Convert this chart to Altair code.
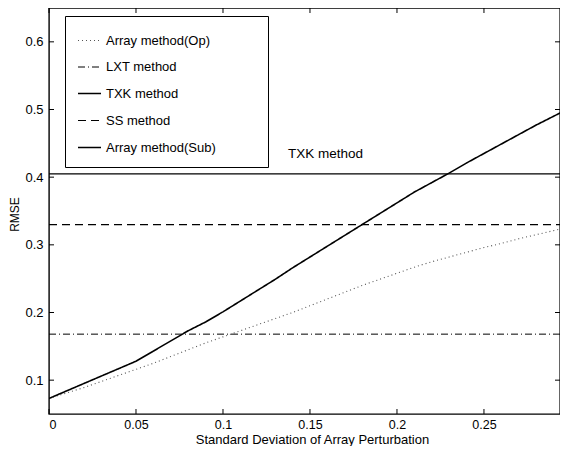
import altair as alt
import pandas as pd

# ---- data ----
x_vals = [0.00, 0.01, 0.02, 0.03, 0.04, 0.05, 0.06, 0.07, 0.08, 0.09,
          0.10, 0.11, 0.12, 0.13, 0.14, 0.15, 0.16, 0.17, 0.18, 0.19,
          0.20, 0.21, 0.22, 0.23, 0.24, 0.25, 0.26, 0.27, 0.28, 0.29, 0.30]
sub_vals = [0.073, 0.084, 0.095, 0.106, 0.117, 0.128, 0.143, 0.158, 0.173, 0.186,
            0.201, 0.217, 0.233, 0.249, 0.266, 0.282, 0.298, 0.314, 0.330, 0.346,
            0.362, 0.378, 0.392, 0.406, 0.421, 0.435, 0.449, 0.463, 0.477, 0.490, 0.503]
op_vals = [0.073, 0.081, 0.089, 0.098, 0.107, 0.116, 0.125, 0.135, 0.145, 0.155,
           0.164, 0.173, 0.182, 0.191, 0.200, 0.210, 0.220, 0.230, 0.240, 0.249,
           0.258, 0.267, 0.275, 0.282, 0.289, 0.296, 0.302, 0.309, 0.315, 0.321, 0.327]
flat_x = [0.0, 0.30]
txk_level = 0.405
ss_level = 0.330
lxt_level = 0.168

methods = ["Array method(Op)", "LXT method", "TXK method", "SS method", "Array method(Sub)"]
method_colors = ["#555555", "#000000", "#000000", "#000000", "#000000"]
method_dashes = [[1, 3], [7, 3, 1, 3], [1, 0], [8, 5], [1, 0]]
method_widths = [1.1, 1.0, 1.3, 1.2, 1.6]

x_ticks = [0, 0.05, 0.1, 0.15, 0.2, 0.25]
y_ticks = [0.1, 0.2, 0.3, 0.4, 0.5, 0.6]

annot_text = ["TXK method"]
annot_x = [0.1374]
annot_y = [0.434]

# ---- build tables ----
rows = []
for xv, yv in zip(x_vals, op_vals):
    rows.append({"x": xv, "y": yv, "method": methods[0]})
for xv in flat_x:
    rows.append({"x": xv, "y": lxt_level, "method": methods[1]})
for xv in flat_x:
    rows.append({"x": xv, "y": txk_level, "method": methods[2]})
for xv in flat_x:
    rows.append({"x": xv, "y": ss_level, "method": methods[3]})
for xv, yv in zip(x_vals, sub_vals):
    rows.append({"x": xv, "y": yv, "method": methods[4]})
df = pd.DataFrame(rows)

xt = pd.DataFrame({"x": x_ticks})
yt = pd.DataFrame({"y": y_ticks})
ann = pd.DataFrame({"t": annot_text, "x": annot_x, "y": annot_y})

W, H = 511, 406
FONT = "Liberation Sans"
xscale = alt.Scale(domain=[0, 0.2937], nice=False, zero=False)
yscale = alt.Scale(domain=[0.05, 0.65], nice=False, zero=False)

xaxis = alt.Axis(values=x_ticks, format="~g", ticks=False, tickSize=0, domain=False, grid=False,
                 labelFont=FONT, labelFontSize=12.5, labelColor="black", labelPadding=4,
                 title="Standard Deviation of Array Perturbation",
                 titleFont=FONT, titleFontSize=13, titleFontWeight="normal", titleColor="black",
                 titleX=263, titleY=19, titleBaseline="top")
yaxis = alt.Axis(values=y_ticks, format=".1f", ticks=False, tickSize=0, domain=False, grid=False,
                 labelFont=FONT, labelFontSize=13, labelColor="black", labelPadding=6,
                 title="RMSE", titleFont=FONT, titleFontSize=12, titleFontWeight="normal",
                 titleColor="black", titleX=-35, titleY=206, titleAlign="center",
                 titleBaseline="middle")

legend = alt.Legend(
    title="\u00a0", titleOrient="right", titlePadding=40, titleFontSize=2,
    orient="none", legendX=16, legendY=8,
    fillColor="white", strokeColor="black", padding=12,
    symbolType="stroke", symbolSize=529, rowPadding=7,
    labelFont=FONT, labelFontSize=13, labelColor="black", labelLimit=400,
)

lines = alt.Chart(df).mark_line(clip=True, strokeCap="butt").encode(
    x=alt.X("x:Q", scale=xscale, axis=xaxis),
    y=alt.Y("y:Q", scale=yscale, axis=yaxis),
    color=alt.Color("method:N", scale=alt.Scale(domain=methods, range=method_colors), legend=legend),
    strokeDash=alt.StrokeDash("method:N", scale=alt.Scale(domain=methods, range=method_dashes), legend=legend),
    strokeWidth=alt.StrokeWidth("method:N", scale=alt.Scale(type="ordinal", domain=methods, range=method_widths),
                                legend=legend),
    detail="method:N",
)

text = alt.Chart(ann).mark_text(align="left", baseline="middle", font=FONT, fontSize=13.5, color="black").encode(
    x=alt.X("x:Q", scale=xscale, axis=xaxis), y=alt.Y("y:Q", scale=yscale, axis=yaxis), text="t:N")

tick_len = 5
xb = alt.Chart(xt).mark_rule(color="black", strokeWidth=1).encode(
    x=alt.X("x:Q", scale=xscale, axis=xaxis), y=alt.value(H), y2=alt.value(H - tick_len))
xtop = alt.Chart(xt).mark_rule(color="black", strokeWidth=1).encode(
    x=alt.X("x:Q", scale=xscale, axis=xaxis), y=alt.value(0), y2=alt.value(tick_len))
yl = alt.Chart(yt).mark_rule(color="black", strokeWidth=1).encode(
    y=alt.Y("y:Q", scale=yscale, axis=yaxis), x=alt.value(0), x2=alt.value(tick_len))
yr = alt.Chart(yt).mark_rule(color="black", strokeWidth=1).encode(
    y=alt.Y("y:Q", scale=yscale, axis=yaxis), x=alt.value(W), x2=alt.value(W - tick_len))

chart = alt.layer(lines, text, xb, xtop, yl, yr).properties(
    width=W, height=H, autosize="none",
    padding={"left": 41, "top": 0, "right": 0, "bottom": 32},
    background="white",
).configure_view(stroke="black", strokeWidth=1.4)

chart.save("out.html", embed_options={"renderer": "svg", "actions": False})
